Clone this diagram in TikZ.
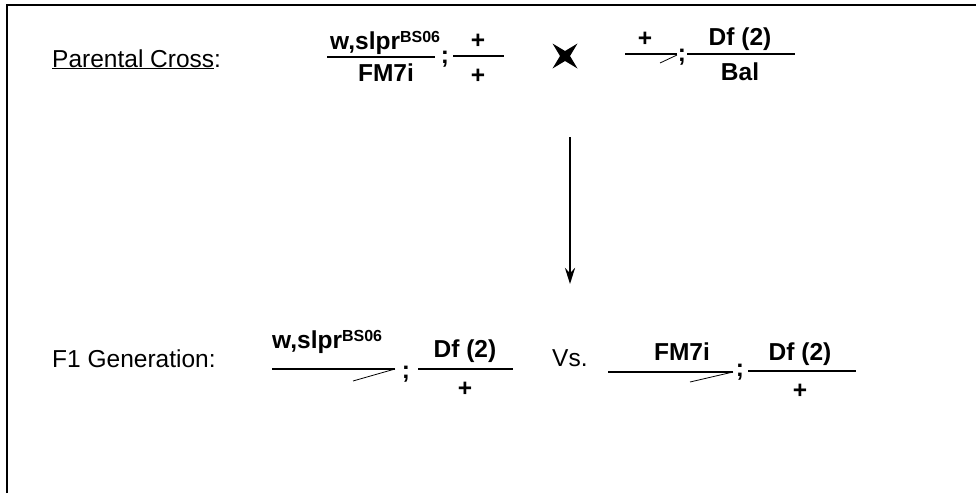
\documentclass[tikz,border=0pt]{standalone}
\usepackage{fontspec}
\setmainfont{Liberation Sans}
\usetikzlibrary{arrows.meta}
\newcommand\gfont{\fontsize{24.5}{28}\selectfont}
\newcommand\supfont{\fontsize{16}{16}\selectfont}
\newcommand\allele{w,slpr\raisebox{6.5pt}{\supfont BS06}}
\begin{document}
\begin{tikzpicture}[x=1pt,y=-1pt,
  every node/.style={inner sep=0pt, font=\gfont},
  lbl/.style={anchor=base west},
  gene/.style={anchor=base, font=\gfont\bfseries},
  bar/.style={line width=1.1pt},
  balslash/.style={line width=0.8pt},
  frame/.style={line width=2.6pt},
  flow/.style={line width=2.6pt, -{Stealth[length=16pt,width=10pt]}}]
\useasboundingbox (0,0) rectangle (976,493);
% open frame: top and left edges only
\draw[frame] (7,493) -- (7,5) -- (976,5);

% ---- parental cross ----
\node[lbl] (pc) at (52,67) {\underline{Parental Cross}:};

\node[gene, anchor=base west] (m1) at (330,49) {\allele};
\node[gene] (m1d) at (386,81) {FM7i};
\draw[bar] (327,57) -- (435,57);
\node[gene] (m1s) at (445,63) {;};

\node[gene] (m2) at (478,48) {+};
\node[gene] (m2d) at (478,83) {+};
\draw[bar] (453,56) -- (504,56);

% cross symbol
\fill (565,56) +(-12.5,-12.5) -- +(0,-5) -- +(12.5,-12.5) -- +(5,0) -- +(12.5,12.5)
      -- +(0,5) -- +(-12.5,12.5) -- +(-5,0) -- cycle;

\node[gene] (p3) at (645,46) {+};
\draw[bar] (625,54) -- (677,54);
\draw[balslash] (660,63) -- (677,55);
\node[gene] (p3s) at (682,61) {;};

\node[gene] (p4) at (740,45) {Df (2)};
\node[gene] (p4d) at (740,80) {Bal};
\draw[bar] (687,54) -- (795,54);

% ---- generation arrow ----
\coordinate (atop) at (570,137);
\coordinate (abot) at (570,284);
\draw[flow] (atop) -- (abot);

% ---- F1 generation ----
\node[lbl] (f1) at (52,367) {F1 Generation:};

\node[gene, anchor=base west] (a1) at (272,348) {\allele};
\draw[bar] (272,369) -- (395,369);
\draw[balslash] (353,381) -- (395,369);
\node[gene] (a1s) at (406,378) {;};

\node[gene] (b1) at (465,357) {Df (2)};
\node[gene] (b1d) at (465,396) {+};
\draw[bar] (418,369) -- (513,369);

\node[lbl] (vs) at (552,366) {Vs.};

\node[gene] (c1) at (682,360) {FM7i};
\draw[bar] (608,372) -- (733,372);
\draw[balslash] (690,382) -- (733,372);
\node[gene] (c1s) at (740,376) {;};

\node[gene] (d1) at (800,360) {Df (2)};
\node[gene] (d1d) at (800,398) {+};
\draw[bar] (748,371) -- (856,371);
\end{tikzpicture}
\end{document}
